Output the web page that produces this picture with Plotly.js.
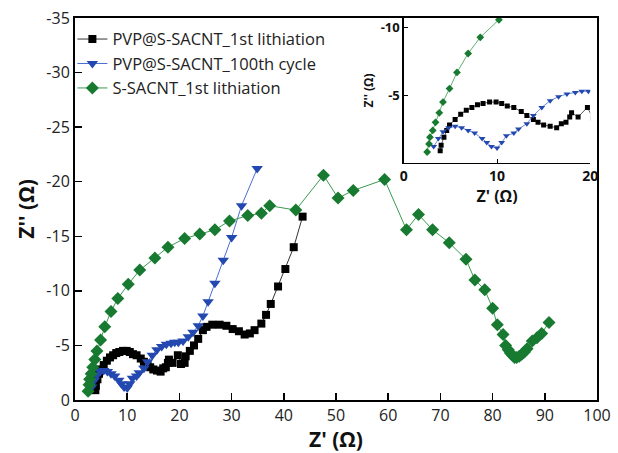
<!DOCTYPE html>
<html>
<head>
<meta charset="utf-8">
<script src="https://cdn.plot.ly/plotly-3.0.1.min.js"></script>
<style>html,body{margin:0;padding:0;background:#fff;}#chart{width:618px;height:453px;}</style>
</head>
<body>
<div id="chart"></div>
<script>
// PVP@S-SACNT_1st lithiation
var blackX = [3.9,4.0,4.3,4.6,4.9,5.5,6.1,6.7,7.3,7.9,8.5,9.2,9.9,10.5,11.1,11.8,12.6,13.2,13.9,14.4,15.0,15.7,16.4,16.9,17.4,17.8,18.0,18.7,19.7,20.3,21.0,21.2,22.0,22.8,23.6,24.5,25.2,26.3,27.7,29.0,30.2,31.4,32.5,33.5,34.4,35.7,36.6,37.5,38.9,40.3,41.9,43.6];
var blackY = [-0.9,-1.3,-1.9,-2.4,-2.8,-3.2,-3.6,-3.9,-4.1,-4.3,-4.4,-4.5,-4.5,-4.4,-4.2,-4.1,-3.8,-3.5,-3.2,-3.0,-2.8,-2.7,-2.6,-2.9,-3.0,-3.4,-3.7,-3.4,-4.1,-3.3,-3.4,-4.0,-4.5,-5.0,-5.6,-6.4,-6.7,-6.9,-6.9,-6.8,-6.5,-6.3,-6.0,-6.1,-6.4,-7.0,-7.8,-8.8,-10.4,-12.0,-14.0,-16.8];
// PVP@S-SACNT_100th cycle
var blueX = [3.2,3.7,4.2,4.8,5.5,6.2,6.9,7.6,8.4,8.9,9.4,10.0,10.5,11.0,11.8,12.3,13.2,13.9,14.8,15.7,16.6,17.5,18.4,19.1,19.8,20.7,21.7,22.6,23.6,24.5,25.5,26.8,28.4,30.0,31.9,34.9];
var blueY = [-1.2,-1.8,-2.3,-2.6,-2.7,-2.6,-2.4,-2.2,-1.8,-1.5,-1.2,-1.1,-1.5,-2.0,-2.2,-2.5,-2.9,-3.5,-4.1,-4.6,-4.9,-5.1,-5.2,-5.3,-5.3,-5.4,-5.8,-6.2,-6.8,-7.7,-9.0,-10.7,-12.8,-14.9,-17.8,-21.2];
// S-SACNT_1st lithiation
var greenX = [2.5,2.7,2.8,3.1,3.4,3.8,4.2,4.9,5.7,6.9,8.2,10.2,12.4,15.3,17.8,21.0,23.9,26.8,29.6,33.1,35.7,37.3,42.3,47.6,50.4,53.3,59.3,63.5,65.8,68.5,71.7,74.9,76.6,78.5,80.0,80.9,82.0,82.5,83.0,83.4,83.8,84.2,84.6,85.1,85.6,86.1,86.6,87.6,88.5,89.4,90.8];
var greenY = [-0.8,-1.4,-1.9,-2.4,-3.0,-3.7,-4.5,-5.5,-6.7,-8.1,-9.3,-10.6,-11.9,-13.0,-14.0,-14.8,-15.2,-15.6,-16.4,-16.9,-17.1,-17.8,-17.4,-20.6,-18.5,-19.2,-20.2,-15.6,-17.0,-15.6,-14.4,-12.9,-11.0,-10.1,-8.4,-6.9,-6.0,-5.0,-4.6,-4.3,-4.1,-3.9,-3.9,-4.0,-4.2,-4.4,-4.7,-5.4,-5.7,-6.1,-7.1];

var names = ['PVP@S-SACNT_1st lithiation','PVP@S-SACNT_100th cycle','S-SACNT_1st lithiation'];
var mainXTicks = [0,10,20,30,40,50,60,70,80,90,100];
var mainYTicks = [0,-5,-10,-15,-20,-25,-30,-35];
var insetXTicks = [0,10,20];
var insetYTicks = [-10,-5];

var series = [
  {x: blackX, y: blackY, color: '#000000', line: '#333333', symbol: 'square', size: 8, isize: 5},
  {x: blueX, y: blueY, color: '#2348b0', line: '#4a6fd0', symbol: 'triangle-down', size: 10, isize: 6},
  {x: greenX, y: greenY, color: '#177a30', line: '#3a9a50', symbol: 'diamond', size: 10, isize: 6}
];

var traces = [];
series.forEach(function(s, i){
  traces.push({
    x: s.x, y: s.y, name: names[i], type: 'scatter', mode: 'lines+markers',
    line: {color: s.line, width: 1},
    marker: {symbol: s.symbol, size: s.size, color: s.color},
    xaxis: 'x', yaxis: 'y'
  });
});
series.forEach(function(s, i){
  traces.push({
    x: s.x, y: s.y, name: names[i], type: 'scatter', mode: 'lines+markers',
    line: {color: s.line, width: 0.8},
    marker: {symbol: s.symbol, size: s.isize, color: s.color},
    xaxis: 'x2', yaxis: 'y2', showlegend: false
  });
});

var tickFont = {family: 'Open Sans, sans-serif', size: 16, color: '#222'};
var layout = {
  width: 618, height: 453,
  margin: {l: 75, r: 21, t: 18, b: 53},
  paper_bgcolor: '#fff', plot_bgcolor: 'rgba(0,0,0,0)',
  showlegend: true,
  legend: {x: -0.005, y: 0.99, xanchor: 'left', yanchor: 'top', bgcolor: 'rgba(0,0,0,0)',
           font: {family: 'Open Sans, sans-serif', size: 16.5, color: '#222'}, tracegroupgap: 0, itemwidth: 30},
  xaxis: {
    domain: [0, 1], range: [0, 100], tickvals: mainXTicks, ticktext: mainXTicks.map(String),
    ticks: 'inside', ticklen: 7, tickwidth: 1.5, tickcolor: '#000',
    showline: true, linecolor: '#000', linewidth: 2, mirror: true, showgrid: false, zeroline: false,
    tickfont: tickFont,
    title: {text: "Z' (Ω)", font: {family: 'Open Sans, sans-serif', size: 21, color: '#111', weight: 'bold'}, standoff: 9}
  },
  yaxis: {
    domain: [0, 1], range: [0, -35], tickvals: mainYTicks, ticktext: mainYTicks.map(String),
    ticks: 'inside', ticklen: 7, tickwidth: 1.5, tickcolor: '#000',
    showline: true, linecolor: '#000', linewidth: 2, mirror: true, showgrid: false, zeroline: false,
    tickfont: tickFont,
    title: {text: "Z'' (Ω)", font: {family: 'Open Sans, sans-serif', size: 21, color: '#111', weight: 'bold'}, standoff: 6}
  },
  xaxis2: {
    domain: [0.630, 0.987], range: [0, 20], anchor: 'y2', tickvals: insetXTicks, ticktext: insetXTicks.map(String),
    ticks: 'inside', ticklen: 4, tickwidth: 1, tickcolor: '#000',
    showline: true, linecolor: '#000', linewidth: 1.5, mirror: false, showgrid: false, zeroline: false,
    tickfont: {family: 'Open Sans, sans-serif', size: 14, color: '#111', weight: 'bold'},
    title: {text: "Z' (Ω)", font: {family: 'Open Sans, sans-serif', size: 16, color: '#111', weight: 'bold'}, standoff: 0}
  },
  yaxis2: {
    domain: [0.621, 1], range: [0, -10.73], anchor: 'x2', tickvals: insetYTicks, ticktext: insetYTicks.map(String),
    ticks: 'inside', ticklen: 4, tickwidth: 1, tickcolor: '#000',
    showline: true, linecolor: '#000', linewidth: 1.5, mirror: false, showgrid: false, zeroline: false,
    tickfont: {family: 'Open Sans, sans-serif', size: 13, color: '#111', weight: 'bold'},
    title: {text: "Z'' (Ω)", font: {family: 'Open Sans, sans-serif', size: 12, color: '#111', weight: 'bold'}, standoff: 4}
  }
};

Plotly.newPlot('chart', traces, layout, {displayModeBar: false, staticPlot: true});
</script>
</body>
</html>
